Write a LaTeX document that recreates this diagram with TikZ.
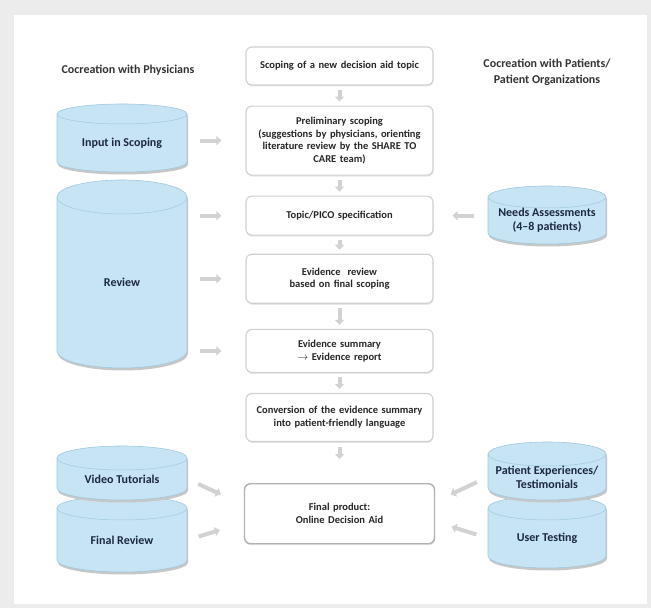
\documentclass[tikz,border=0pt]{standalone}
\usepackage{fontspec}
\setmainfont{Carlito}
\usetikzlibrary{positioning,arrows.meta,shadows}

\definecolor{framegray}{RGB}{236,236,236}
\definecolor{cylfill}{RGB}{198,228,243}
\definecolor{cyledge}{RGB}{160,200,222}
\definecolor{cylink}{RGB}{28,40,66}
\definecolor{boxedge}{RGB}{208,208,208}
\definecolor{arrowgray}{RGB}{210,210,210}

% cylinder: name, x centre, y top, y bottom, x radius, y radius, label
\newcommand{\dbcyl}[7]{%
  \fill[cylshadow, xshift=1pt, yshift=-2.5pt] (#2-#5,#3-#6) -- (#2-#5,#4+#6)
    arc[start angle=180, end angle=360, x radius=#5pt, y radius=#6pt] -- (#2+#5,#3-#6)
    arc[start angle=0, end angle=180, x radius=#5pt, y radius=#6pt] -- cycle;
  \filldraw[cylbody] (#2-#5,#3-#6) -- (#2-#5,#4+#6)
    arc[start angle=180, end angle=360, x radius=#5pt, y radius=#6pt] -- (#2+#5,#3-#6)
    arc[start angle=0, end angle=180, x radius=#5pt, y radius=#6pt] -- cycle;
  \draw[cylcap] (#2-#5,#3-#6) arc[start angle=180, end angle=360, x radius=#5pt, y radius=#6pt];
  \node[cyltext, minimum width={2*#5*1pt}, minimum height={(#3-#4-2*#6)*1pt}]
    (#1) at (#2,{(#3+#4)/2-#6/2}) {#7};
}

\tikzset{
  stage/.style={draw=boxedge, line width=1.1pt, fill=white, rounded corners=6pt,
    minimum width=187pt, text width=182pt, align=center, inner sep=2pt,
    font=\fontsize{10.5}{12.8}\selectfont\bfseries, text=black!85,
    drop shadow={opacity=0.18, shadow xshift=0.6pt, shadow yshift=-1.5pt}},
  heading/.style={align=center, font=\fontsize{12}{16}\selectfont\bfseries, text=black!80},
  cyltext/.style={align=center, inner sep=0pt, font=\fontsize{12}{14}\selectfont\bfseries, text=cylink},
  cylbody/.style={fill=cylfill, draw=cyledge, line width=0.6pt},
  cylcap/.style={draw=cyledge, line width=0.5pt},
  cylshadow/.style={fill=black!22},
  flow/.style={line width=4pt, draw=arrowgray, -{Triangle[length=5pt, width=9pt]}},
}

\begin{document}
\begin{tikzpicture}[x=1pt, y=1pt]
\useasboundingbox (0,0) rectangle (651,608);
\fill[framegray] (0,0) rectangle (651,608);
\fill[white] (14,4) rectangle (647,593);

% column headings
\node[heading] (physhead) at (128,538) {Cocreation with Physicians};
\node[heading] (pathead) at (547,536) {Cocreation with Patients/\\Patient Organizations};

% physicians
\dbcyl{input}{122}{504}{436}{65}{10}{Input in Scoping}
\dbcyl{review}{122}{428}{240}{65}{17}{Review}
\dbcyl{finalrev}{122}{112}{36}{65}{12}{Final Review}
\dbcyl{video}{122}{162}{108}{65}{12}{Video Tutorials}

% patients
\dbcyl{needs}{547}{422}{364}{59}{11}{Needs Assessments\\(4--8 patients)}
\dbcyl{usertest}{547}{112}{40}{59}{12}{User Testing}
\dbcyl{pexp}{547}{166}{108}{59}{12}{Patient Experiences/\\Testimonials}

% main flow
\node[stage, minimum height=38pt] (scope) at (339.5,542) {Scoping of a new decision aid topic};
\node[stage, minimum height=69pt, below=20pt of scope] (prelim)
  {Preliminary scoping\\(suggestions by physicians, orienting\\literature review by the SHARE TO\\CARE team)};
\node[stage, minimum height=39pt, below=20pt of prelim] (pico) {Topic/PICO specification};
\node[stage, minimum height=49pt, below=18pt of pico] (evrev) {Evidence\ \ review\\based on final scoping};
\node[stage, minimum height=43pt, below=25pt of evrev] (evsum) {Evidence summary\\$\rightarrow$ Evidence report};
\node[stage, minimum height=48pt, below=20pt of evsum] (convert)
  {Conversion of the evidence summary\\into patient-friendly language};
\node[stage, minimum height=60pt, minimum width=190pt, draw=black!30, line width=1.4pt,
  below=41pt of convert] (aid) {Final product:\\Online Decision Aid};

\foreach \a/\b in {scope/prelim, prelim/pico, pico/evrev, evrev/evsum, evsum/convert}
  \draw[flow, shorten <=4pt, shorten >=4pt] (\a.south) -- (\b.north);
\draw[flow, shorten <=5pt, shorten >=24pt] (convert.south) -- (aid.north);

% inputs from the sides
\draw[flow, shorten <=13pt, shorten >=24pt] (input.east |- prelim.west) -- (prelim.west);
\foreach \t in {pico, evrev, evsum}
  \draw[flow, shorten <=13pt, shorten >=24pt] (review.east |- \t.west) -- (\t.west);
\draw[flow, shorten <=14pt, shorten >=19pt] (needs.west |- pico.east) -- (pico.east);
\draw[flow, shorten <=12pt, shorten >=25pt] (video.east) -- ([yshift=9pt]aid.west);
\draw[flow, shorten <=12pt, shorten >=25pt] (finalrev.east) -- ([yshift=-9pt]aid.west);
\draw[flow, shorten <=12pt, shorten >=17pt] (pexp.west) -- ([yshift=12pt]aid.east);
\draw[flow, shorten <=12pt, shorten >=17pt] (usertest.west) -- ([yshift=-8pt]aid.east);
\end{tikzpicture}
\end{document}
